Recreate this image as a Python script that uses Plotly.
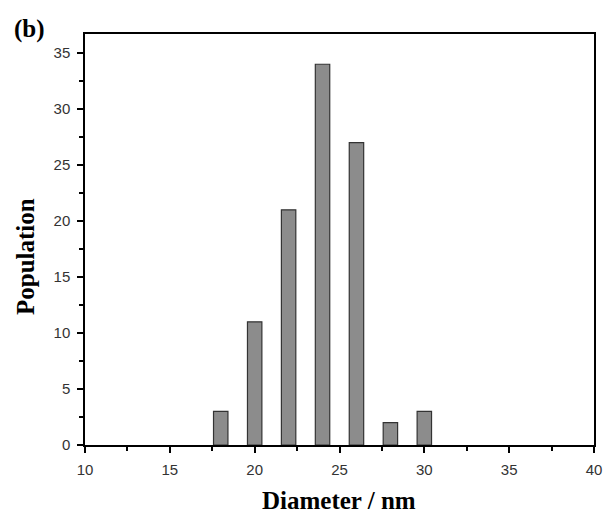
import plotly.graph_objects as go

diameters = [18, 20, 22, 24, 26, 28, 30]
population = [3, 11, 21, 34, 27, 2, 3]
x_ticks = [10, 15, 20, 25, 30, 35, 40]
y_ticks = [0, 5, 10, 15, 20, 25, 30, 35]

L, R, T, B = 85, 12, 34, 70
W, H = 606, 515
pw, ph = W - L - R, H - T - B

fig = go.Figure()
fig.add_trace(go.Bar(
    x=diameters, y=population, width=0.85,
    marker=dict(color="#8c8c8c", line=dict(color="#333333", width=1.2)),
))

axis_common = dict(
    showline=True, linecolor="black", linewidth=1.5, mirror=True,
    ticks="outside", ticklen=6, tickwidth=1.5, tickcolor="black",
    showgrid=False, zeroline=False, automargin=False,
    tickfont=dict(family="Liberation Sans, Arial", size=15, color="#333"),
)
serif = "Liberation Serif, Times New Roman"

fig.update_layout(
    width=W, height=H,
    margin=dict(l=L, r=R, t=T, b=B, autoexpand=False),
    plot_bgcolor="white", paper_bgcolor="white",
    showlegend=False,
    xaxis=dict(range=[10, 40], tickvals=x_ticks, ticklabelstandoff=4,
               minor=dict(ticks="outside", ticklen=4, tickwidth=1.5, tickcolor="black", dtick=2.5, tick0=10),
               **axis_common),
    yaxis=dict(range=[0, 36.7], tickvals=y_ticks, ticklabelstandoff=4,
               minor=dict(ticks="outside", ticklen=4, tickwidth=1.5, tickcolor="black", dtick=2.5, tick0=0),
               **axis_common),
    annotations=[
        dict(text="<b>(b)</b>", x=(12 - L) / pw, y=1 + (T - 13) / ph,
             xref="paper", yref="paper", xanchor="left", yanchor="top", showarrow=False,
             font=dict(family=serif, size=25, color="black")),
        dict(text="<b>Diameter / nm</b>", x=(339 - L) / pw, y=-(500 - T - ph) / ph,
             xref="paper", yref="paper", xanchor="center", yanchor="middle", showarrow=False,
             font=dict(family=serif, size=25, color="black")),
        dict(text="<b>Population</b>", x=(25 - L) / pw, y=1 - (257 - T) / ph, textangle=-90,
             xref="paper", yref="paper", xanchor="center", yanchor="middle", showarrow=False,
             font=dict(family=serif, size=25, color="black")),
    ],
)

fig.write_html("out.html")
